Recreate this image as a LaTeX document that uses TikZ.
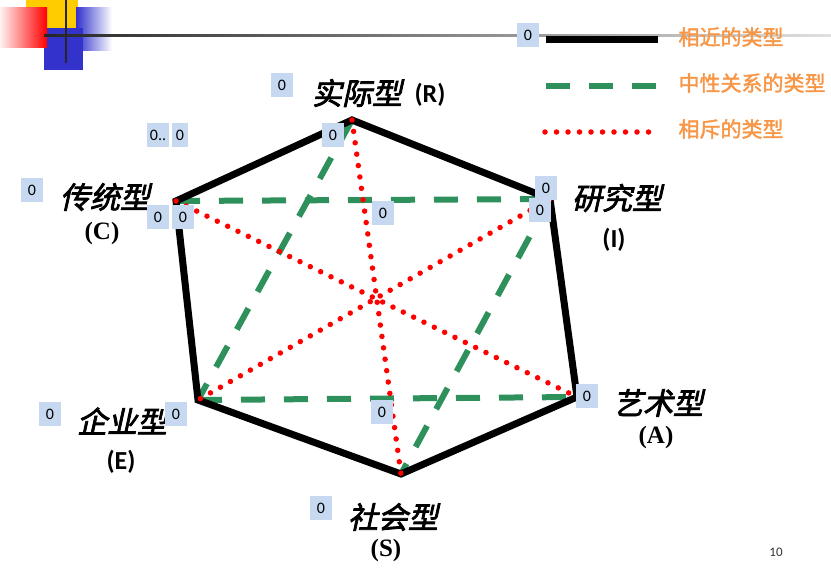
\documentclass[tikz,border=0pt]{standalone}
\usepackage{fontspec}
\setmainfont{Carlito}
\newfontfamily\cjkit{Noto Sans CJK SC}[FakeSlant=0.22,FakeBold=2.5]
\newfontfamily\cjkbf{Noto Sans CJK SC}[FakeBold=1.8]
\newfontfamily\serifbf{Liberation Serif}
\usetikzlibrary{calc}
\definecolor{boxblue}{RGB}{198,217,241}
\definecolor{legendorange}{RGB}{247,150,70}
\definecolor{neutralgreen}{RGB}{46,145,92}
\definecolor{repelred}{RGB}{255,0,0}
\definecolor{squareyellow}{RGB}{255,204,0}
\definecolor{squareblue}{RGB}{51,51,204}

\begin{document}
\begin{tikzpicture}[
  x=1pt, y=-1pt,
  hexedge/.style={draw=black, line width=7pt},
  neutral/.style={draw=neutralgreen, line width=6pt, dash pattern=on 24pt off 19pt},
  repel/.style={draw=repelred, line width=5.5pt, line cap=round, dash pattern=on 0pt off 11.5pt},
  zerobox/.style={fill=boxblue, minimum width=22pt, minimum height=24pt, inner sep=0pt, font=\fontsize{16}{16}\selectfont},
  typename/.style={font=\cjkit\fontsize{30}{30}\selectfont},
  typecode/.style={font=\bfseries\fontsize{26}{26}\selectfont},
  typecodeserif/.style={font=\serifbf\bfseries\fontsize{25}{25}\selectfont},
  legendtext/.style={anchor=west, text=legendorange, font=\cjkbf\fontsize{21}{21}\selectfont}
]
\useasboundingbox (0,0) rectangle (831,571);
\fill[squareyellow] (26,0) rectangle (78,28);
\shade[left color=squareblue, right color=white] (76,7) rectangle (112,50);
\fill[squareblue] (44,28) rectangle (83,70);
\shade[left color=red!5, right color=red] (0,7) rectangle (47,47);
\shade[left color=black!85, right color=black!12] (44,34) rectangle (831,36.5);
\draw[line width=2.5pt, black!85] (66,0) -- (66,63);

\coordinate (R) at (352,120);
\coordinate (I) at (550,199);
\coordinate (A) at (577,397);
\coordinate (S) at (401,474);
\coordinate (E) at (198,400);
\coordinate (C) at (176,201);

\draw[neutral] (C) -- (I);
\draw[neutral] (E) -- (A);
\draw[neutral] (R) -- (E);
\draw[neutral] (I) -- (S);
\draw[hexedge] (R) -- (I) -- (A) -- (S) -- (E) -- (C) -- cycle;
\draw[repel] (R) -- (S);
\draw[repel] (C) -- (A);
\draw[repel] (I) -- (E);

\node[typename] (Rname) at (357,93) {实际型};
\node[typecode] (Rcode) at (430,95) {(R)};
\node[typename] (Cname) at (105,197) {传统型};
\node[typecodeserif] (Ccode) at (102,233) {(C)};
\node[typename] (Iname) at (617,198) {研究型};
\node[typecode] (Icode) at (614,240) {(I)};
\node[typename] (Aname) at (658,403) {艺术型};
\node[typecodeserif] (Acode) at (656,437) {(A)};
\node[typename] (Ename) at (122,421) {企业型};
\node[typecode] (Ecode) at (121,462) {(E)};
\node[typename] (Sname) at (393,517) {社会型};
\node[typecodeserif] (Scode) at (386,550) {(S)};

\foreach \n/\x/\y in {z1/528/35, z2/282/85, z3/32/190, z4/158/217, z5/183/217,
  z6/333/135, z7/546/188, z8/540/210, z9/383/213, z10/587/396,
  z11/50/414, z12/176/414, z13/382/412, z14/321/508} {
  \node[zerobox] (\n) at (\x,\y) {0};
}
\node[zerobox] (zdots) at (158,135) {0..};
\node[zerobox, minimum width=16pt] (znarrow) at (180,135) {0};

\coordinate (nearA) at (546,39);
\coordinate (nearB) at (658,39);
\coordinate (neutralA) at (546,86);
\coordinate (neutralB) at (658,86);
\coordinate (repelA) at (545,132);
\coordinate (repelB) at (652,132);
\draw[hexedge] (nearA) -- (nearB);
\draw[neutral] (neutralA) -- (neutralB);
\draw[repel] (repelA) -- (repelB);
\node[legendtext] (neartext) at (675,37) {相近的类型};
\node[legendtext] (neutraltext) at (675,83) {中性关系的类型};
\node[legendtext] (repeltext) at (675,129) {相斥的类型};

\node[font=\fontsize{13}{13}\selectfont, text=black!80] (pagenum) at (776,552) {10};
\end{tikzpicture}
\end{document}
